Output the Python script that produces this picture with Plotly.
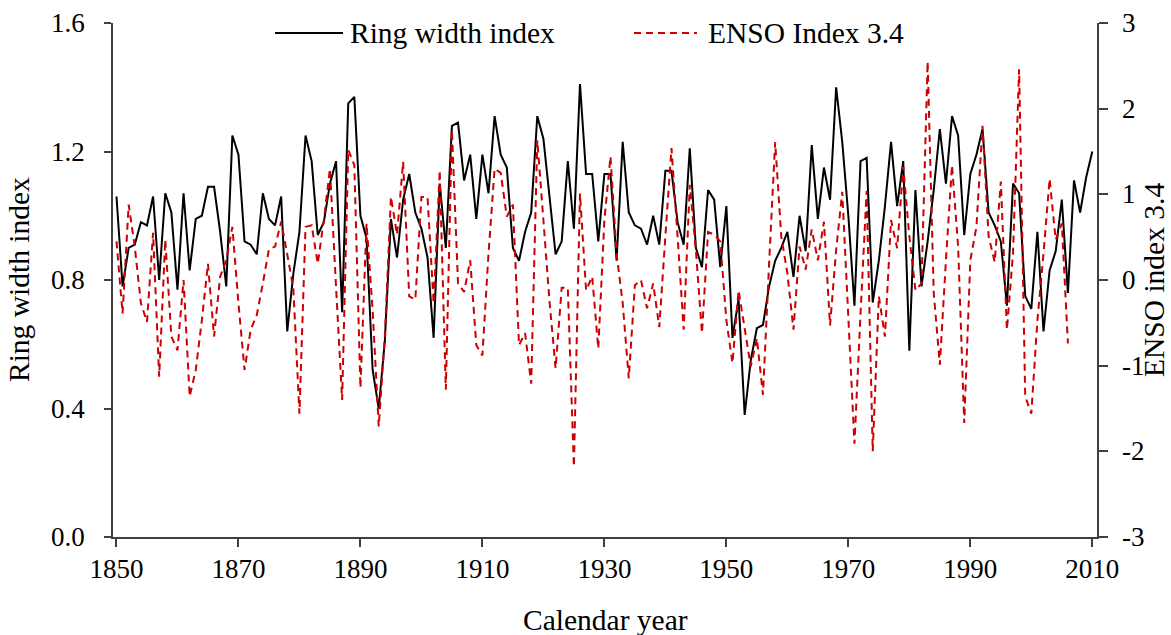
import plotly.graph_objects as go

# Tree-ring width chronology, 1850-2010
ring_years = list(range(1850, 2011))
ring_width = [
    1.06, 0.78, 0.90, 0.91, 0.98, 0.97, 1.06, 0.80, 1.07, 1.01,  # 1850s
    0.77, 1.07, 0.83, 0.99, 1.00, 1.09, 1.09, 0.95, 0.78, 1.25,  # 1860s
    1.19, 0.92, 0.91, 0.88, 1.07, 0.99, 0.97, 1.06, 0.64, 0.82,  # 1870s
    0.95, 1.25, 1.17, 0.94, 0.98, 1.10, 1.17, 0.70, 1.35, 1.37,  # 1880s
    1.00, 0.93, 0.52, 0.40, 0.61, 0.99, 0.87, 1.05, 1.13, 1.01,  # 1890s
    0.96, 0.87, 0.62, 1.10, 0.90, 1.28, 1.29, 1.11, 1.19, 0.99,  # 1900s
    1.19, 1.07, 1.31, 1.19, 1.15, 0.90, 0.86, 0.95, 1.01, 1.31,  # 1910s
    1.24, 1.06, 0.88, 0.92, 1.17, 0.96, 1.41, 1.13, 1.13, 0.92,  # 1920s
    1.13, 1.13, 0.86, 1.23, 1.01, 0.97, 0.96, 0.91, 1.00, 0.91,  # 1930s
    1.14, 1.14, 0.98, 0.91, 1.21, 0.90, 0.84, 1.08, 1.05, 0.84,  # 1940s
    1.03, 0.62, 0.74, 0.38, 0.55, 0.65, 0.66, 0.78, 0.86, 0.90,  # 1950s
    0.95, 0.81, 1.00, 0.89, 1.22, 0.99, 1.15, 1.05, 1.40, 1.23,  # 1960s
    1.00, 0.72, 1.17, 1.18, 0.73, 0.86, 1.03, 1.23, 1.03, 1.17,  # 1970s
    0.58, 1.08, 0.78, 0.92, 1.08, 1.27, 1.10, 1.31, 1.25, 0.94,  # 1980s
    1.13, 1.19, 1.27, 1.01, 0.97, 0.92, 0.72, 1.10, 1.07, 0.75,  # 1990s
    0.71, 0.95, 0.64, 0.83, 0.89, 1.05, 0.76, 1.11, 1.01, 1.12,  # 2000s
    1.20,                                                        # 2010
]

# Nino 3.4 ENSO index, 1850-2006
enso_years = list(range(1850, 2007))
enso_index = [
    0.45, -0.39, 0.88, 0.39, -0.27, -0.49, 0.55, -1.13, 0.47, -0.66,   # 1850s
    -0.82, 0.00, -1.36, -1.05, -0.47, 0.19, -0.66, 0.04, 0.23, 0.62,   # 1860s
    -0.27, -1.05, -0.58, -0.41, -0.04, 0.36, 0.39, 0.68, 0.30, -0.10,  # 1870s
    -1.56, 0.62, 0.64, 0.19, 0.70, 1.30, -0.08, -1.40, 1.52, 1.34,     # 1880s
    -1.26, 0.66, -0.35, -1.71, -0.66, 0.97, 0.53, 1.38, -0.19, -0.23,  # 1890s
    0.97, 0.97, -0.27, 1.28, -1.28, 1.75, -0.04, -0.14, 0.23, -0.76,   # 1900s
    -0.88, 0.31, 1.30, 1.25, 0.74, 0.88, -0.76, -0.62, -1.21, 1.63,    # 1910s
    0.70, -0.25, -1.03, -0.09, -0.09, -2.18, 1.01, -0.12, 0.04, -0.80, # 1920s
    0.70, 1.44, 0.31, -0.27, -1.15, -0.06, 0.00, -0.33, -0.04, -0.55,  # 1930s
    0.51, 1.54, 0.51, -0.58, 1.11, 0.35, -0.62, 0.56, 0.53, 0.45,      # 1940s
    -0.47, -0.97, -0.12, -0.58, -1.01, -0.68, -1.34, 0.18, 1.61, 0.51, # 1950s
    0.08, -0.58, 0.39, 0.12, 0.59, 0.23, 0.68, -0.53, 0.35, 1.03,      # 1960s
    -0.45, -1.91, -0.39, 1.04, -2.00, -0.19, -0.66, 0.70, 0.37, 1.32,  # 1970s
    0.51, -0.12, -0.04, 2.55, -0.15, -0.99, 0.23, 1.34, 0.39, -1.67,   # 1980s
    0.23, 0.62, 1.80, 0.51, 0.21, 1.15, -0.58, 0.31, 2.46, -1.36,      # 1990s
    -1.56, -0.47, 0.31, 1.18, 0.47, 0.66, -0.74,                       # 2000s
]

# Axis ticks
x_ticks = [1850, 1870, 1890, 1910, 1930, 1950, 1970, 1990, 2010]
ring_ticks = [0.0, 0.4, 0.8, 1.2, 1.6]
ring_tick_text = ["0.0", "0.4", "0.8", "1.2", "1.6"]
enso_ticks = [-3, -2, -1, 0, 1, 2, 3]
enso_tick_text = ["-3", "-2", "-1", "0", "1", "2", "3"]

FONT = "Liberation Serif"
AXIS_COLOR = "#404040"
RED = "#CC0000"
TEXT_SIZE = 29.5
TICK_SIZE = 27

fig = go.Figure()
fig.add_trace(go.Scatter(
    x=ring_years, y=ring_width, name="Ring width index",
    mode="lines", line=dict(color="black", width=2),
    yaxis="y", showlegend=False,
))
fig.add_trace(go.Scatter(
    x=enso_years, y=enso_index, name="ENSO Index 3.4",
    mode="lines", line=dict(color=RED, width=2, dash="7px,5px"),
    yaxis="y2", showlegend=False,
))

# Page-pixel helpers for the legend row and the axis titles
M_L, M_R, M_T, M_B = 113, 74, 23, 98
W_PLOT = 1171 - M_L - M_R
H_PLOT = 635 - M_T - M_B
def px_x(p):
    return (p - M_L) / W_PLOT
def px_y(p):
    return (635 - M_B - p) / H_PLOT

legend_y = px_y(33)
shapes = [
    dict(type="line", xref="paper", yref="paper",
         x0=px_x(275), x1=px_x(343), y0=legend_y, y1=legend_y,
         line=dict(color="black", width=2)),
    dict(type="line", xref="paper", yref="paper",
         x0=px_x(634), x1=px_x(697), y0=legend_y, y1=legend_y,
         line=dict(color=RED, width=2, dash="7px,5px")),
]
text_font = dict(family=FONT, size=TEXT_SIZE, color="black")
annotations = [
    dict(text="Ring width index", xref="paper", yref="paper",
         x=px_x(348), y=legend_y, xanchor="left", yanchor="middle",
         showarrow=False, font=text_font),
    dict(text="ENSO Index 3.4", xref="paper", yref="paper",
         x=px_x(706), y=legend_y, xanchor="left", yanchor="middle",
         showarrow=False, font=text_font),
    # axis titles
    dict(text="Calendar year", xref="paper", yref="paper",
         x=px_x(605), y=px_y(620), xanchor="center", yanchor="middle",
         showarrow=False, font=text_font),
    dict(text="Ring width index", xref="paper", yref="paper",
         x=px_x(19), y=px_y(280), xanchor="center", yanchor="middle",
         textangle=-90, showarrow=False, font=text_font),
    dict(text="ENSO index 3.4", xref="paper", yref="paper",
         x=px_x(1154), y=px_y(280), xanchor="center", yanchor="middle",
         textangle=-90, showarrow=False, font=text_font),
]
# Right-axis tick labels, left-aligned beside the ENSO axis
for val, label in zip(enso_ticks, enso_tick_text):
    annotations.append(dict(
        text=label, xref="paper", yref="y2", x=px_x(1120), y=val,
        xanchor="left", yanchor="middle", showarrow=False,
        font=dict(family=FONT, size=TICK_SIZE, color="black"),
    ))

fig.update_layout(
    width=1171, height=635,
    margin=dict(l=M_L, r=M_R, t=M_T, b=M_B, pad=0, autoexpand=False),
    paper_bgcolor="white", plot_bgcolor="white",
    font=dict(family=FONT, size=TICK_SIZE, color="black"),
    shapes=shapes, annotations=annotations,
    xaxis=dict(
        range=[1849.43, 2010.77], tickvals=x_ticks, automargin=False,
        showgrid=False, zeroline=False,
        showline=True, linecolor=AXIS_COLOR, linewidth=1.5,
        ticks="outside", ticklen=8, tickcolor=AXIS_COLOR, tickwidth=1.5,
        ticklabelstandoff=-1,
    ),
    yaxis=dict(
        range=[0, 1.6], tickvals=ring_ticks, ticktext=ring_tick_text, automargin=False,
        showgrid=False, zeroline=False,
        showline=True, linecolor=AXIS_COLOR, linewidth=1.5,
        ticks="outside", ticklen=7, tickcolor=AXIS_COLOR, tickwidth=1.5,
        ticklabelstandoff=14,
    ),
    yaxis2=dict(
        range=[-3, 3], tickvals=enso_ticks, showticklabels=False, automargin=False,
        overlaying="y", side="right", anchor="x",
        showgrid=False, zeroline=False,
        showline=True, linecolor=AXIS_COLOR, linewidth=1.5,
        ticks="outside", ticklen=9, tickcolor=AXIS_COLOR, tickwidth=1.5,
    ),
)

fig.write_html("out.html")
